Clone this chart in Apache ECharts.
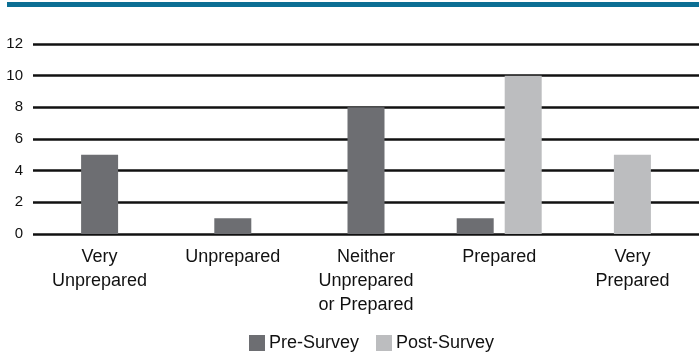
<!DOCTYPE html>
<html>
<head>
<meta charset="utf-8">
<script src="https://cdn.jsdelivr.net/npm/echarts@6/dist/echarts.min.js"></script>
<style>
  html, body { margin: 0; padding: 0; background: #fff; }
  #chart { width: 699px; height: 354px; }
</style>
</head>
<body>
<div id="chart"></div>
<script>
// Survey responses on preparedness, before and after
const categories = ['Very\nUnprepared', 'Unprepared', 'Neither\nUnprepared\nor Prepared', 'Prepared', 'Very\nPrepared'];
const preSurvey = [5, 1, 8, 1, 0];
const postSurvey = [0, 0, 0, 10, 5];
const yTicks = [0, 2, 4, 6, 8, 10, 12];

const FONT = '"Liberation Sans", Arial, Helvetica, sans-serif';
const BAR_W = 37;
const BAR_GAP = 11;

// Bars are centred on their category; when both surveys have a value they sit side by side.
function makeRenderer(isPre) {
  return function (params, api) {
    const i = api.value(0);
    const v = api.value(1);
    if (!v) return null;
    const both = preSurvey[i] > 0 && postSurvey[i] > 0;
    const base = api.coord([i, 0]);
    const top = api.coord([i, v]);
    let cx = base[0];
    if (both) cx += (isPre ? -1 : 1) * (BAR_W + BAR_GAP) / 2;
    return {
      type: 'rect',
      shape: { x: cx - BAR_W / 2, y: top[1], width: BAR_W, height: base[1] - top[1] },
      style: { fill: api.visual('color') }
    };
  };
}

const chart = echarts.init(document.getElementById('chart'), null, { renderer: 'canvas' });
chart.setOption({
  animation: false,
  backgroundColor: '#ffffff',
  textStyle: { fontFamily: FONT },
  graphic: [{
    type: 'rect', left: 7, top: 2,
    shape: { width: 692, height: 5 },
    style: { fill: '#0c6f94' }, silent: true
  }],
  grid: { left: 33, right: -17, top: 44, bottom: 120 },
  legend: {
    left: 249, top: 334, padding: 0,
    icon: 'rect', itemWidth: 16, itemHeight: 16, itemGap: 17,
    textStyle: { fontFamily: FONT, fontSize: 18, lineHeight: 18, color: '#111', padding: [0, 0, 0, -1] },
    data: ['Pre-Survey', 'Post-Survey']
  },
  xAxis: {
    type: 'category',
    data: categories,
    axisLine: { show: false },
    axisTick: { show: false },
    axisLabel: {
      interval: 0, margin: 11,
      fontFamily: FONT, fontSize: 18, lineHeight: 24, color: '#111'
    }
  },
  yAxis: {
    type: 'value',
    min: yTicks[0], max: yTicks[yTicks.length - 1], interval: yTicks[1] - yTicks[0],
    axisLine: { show: false },
    axisTick: { show: false },
    splitLine: { lineStyle: { color: '#111', width: 2.6 } },
    axisLabel: {
      margin: 10, fontFamily: FONT, fontSize: 15, color: '#111',
      padding: [0, 0, 7, 0]
    }
  },
  series: [
    {
      name: 'Pre-Survey', type: 'custom',
      itemStyle: { color: '#6d6e72' },
      renderItem: makeRenderer(true),
      encode: { x: 0, y: 1 },
      data: preSurvey.map((v, i) => [i, v]),
      z: 3
    },
    {
      name: 'Post-Survey', type: 'custom',
      itemStyle: { color: '#bcbdbf' },
      renderItem: makeRenderer(false),
      encode: { x: 0, y: 1 },
      data: postSurvey.map((v, i) => [i, v]),
      z: 3
    }
  ]
});
</script>
</body>
</html>
